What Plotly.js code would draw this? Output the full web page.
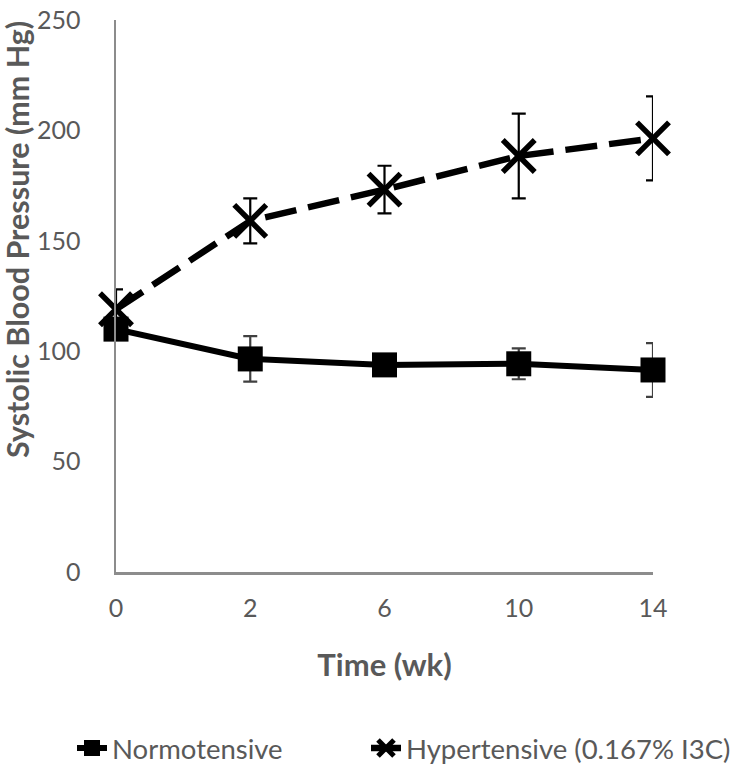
<!DOCTYPE html>
<html>
<head>
<meta charset="utf-8">
<script src="https://cdn.plot.ly/plotly-3.0.1.min.js"></script>
<style>html,body{margin:0;padding:0;background:#fff;}#chart{width:732px;height:772px;}</style>
</head>
<body>
<div id="chart"></div>
<script>
const weeks = ["0", "2", "6", "10", "14"];
const normoMean = [110, 96.5, 93.8, 94.3, 91.5];
const normoErr = [3, 10.3, 3, 7, 12.2];
const hyperMean = [119, 159, 173.2, 188.4, 196.4];
const hyperErr = [9, 10.2, 10.8, 19.2, 19];
const seriesNames = ["Normotensive", "Hypertensive (0.167% I3C)"];
const yTitle = "Systolic Blood Pressure (mm Hg)";
const xTitle = "Time (wk)";

const FONT = "Lato, 'Open Sans', sans-serif";
const GREY = "#595959";

const traces = [
  {
    x: weeks, y: normoMean, name: seriesNames[0], type: "scatter", mode: "lines+markers",
    line: {color: "#000", width: 6},
    marker: {symbol: "square", size: 25, color: "#000"},
    error_y: {type: "data", array: normoErr, visible: true, color: "#404040", thickness: 2.2, width: 7},
    cliponaxis: false, legend: "legend"
  },
  {
    x: weeks, y: hyperMean, name: seriesNames[1], type: "scatter", mode: "lines+markers",
    line: {color: "#000", width: 6.5, dash: "32px,12px"},
    marker: {symbol: "x-thin-open", size: 32, color: "#000", line: {color: "#000", width: 5.5}},
    error_y: {type: "data", array: hyperErr, visible: true, color: "#000", thickness: 2.2, width: 7},
    cliponaxis: false, legend: "legend2"
  }
];

const legendBase = {
  orientation: "h", xref: "container", yref: "container",
  xanchor: "left", y: 0.031, yanchor: "middle",
  font: {family: FONT, size: 27.5, color: GREY},
  bgcolor: "rgba(0,0,0,0)"
};

const layout = {
  width: 732, height: 772,
  margin: {l: 116, r: 79, t: 20, b: 200},
  paper_bgcolor: "#fff", plot_bgcolor: "#fff",
  font: {family: FONT, size: 25, color: GREY},
  showlegend: true,
  legend: Object.assign({}, legendBase, {x: 72 / 732}),
  legend2: Object.assign({}, legendBase, {x: 366 / 732}),
  xaxis: {
    type: "category", range: [0, 4],
    showline: true, linecolor: "#8c8c8c", linewidth: 2.5,
    showgrid: false, zeroline: false, ticks: "",
    ticklabelstandoff: 12,
    tickfont: {family: FONT, size: 25, color: GREY},
    title: {text: "<b>" + xTitle + "</b>", font: {family: FONT, size: 31, color: GREY}, standoff: 34}
  },
  yaxis: {
    range: [0, 250], tickvals: [0, 50, 100, 150, 200, 250],
    showline: true, linecolor: "#8c8c8c", linewidth: 2.5,
    showgrid: false, zeroline: false, ticks: "",
    ticklabelstandoff: 28,
    tickfont: {family: FONT, size: 25, color: GREY}
  },
  annotations: [{
    text: "<b>" + yTitle + "</b>", textangle: -90, showarrow: false,
    xref: "paper", yref: "paper", x: (17 - 116) / 537, y: (572 - 240) / 552,
    xanchor: "center", yanchor: "middle",
    font: {family: FONT, size: 30.5, color: GREY}
  }]
};

Plotly.newPlot("chart", traces, layout, {displayModeBar: false, staticPlot: true});
</script>
</body>
</html>
